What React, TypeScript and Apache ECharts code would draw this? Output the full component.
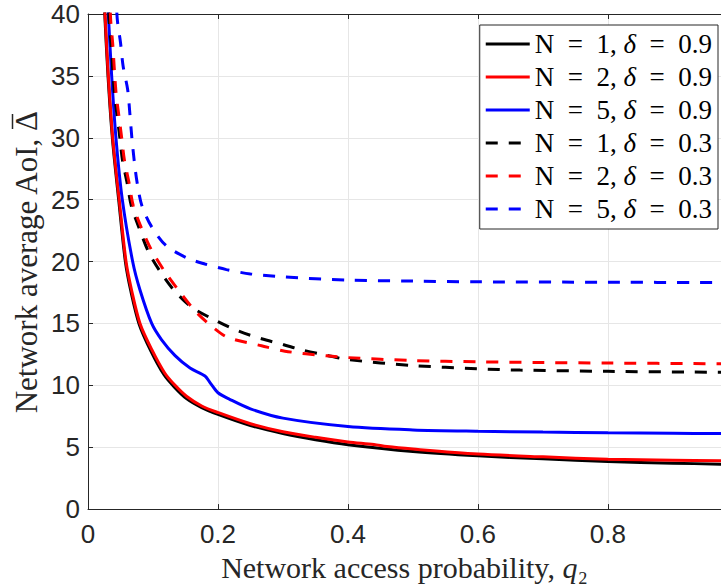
import React, { useEffect, useRef } from "react";
import * as echarts from "echarts";

// x: network access probability q2, y: network average AoI
const n1d09: [number, number][] = [
  [0.0245, 42], [0.0258, 40], [0.0308, 35], [0.0375, 30], [0.0472, 25], [0.0575, 20],
  [0.066, 17.6], [0.079, 14.9], [0.097, 12.75], [0.117, 10.85], [0.133, 9.85], [0.151, 8.95],
  [0.175, 8.2], [0.2, 7.65], [0.25, 6.75], [0.3, 6.1], [0.35, 5.6], [0.4, 5.2],
  [0.5, 4.65], [0.6, 4.3], [0.7, 4.06], [0.8, 3.84], [0.9, 3.71], [0.975, 3.63],
];
const n2d09: [number, number][] = [
  [0.025, 42], [0.0262, 40], [0.0313, 35], [0.038, 30], [0.048, 25], [0.0585, 20],
  [0.067, 17.7], [0.08, 15], [0.098, 12.9], [0.118, 11.0], [0.134, 10], [0.152, 9.1],
  [0.175, 8.33], [0.2, 7.8], [0.25, 6.9], [0.3, 6.25], [0.35, 5.8], [0.4, 5.43],
  [0.44, 5.22], [0.46, 5.05], [0.5, 4.85], [0.6, 4.45], [0.7, 4.22], [0.8, 4.03],
  [0.9, 3.95], [0.975, 3.9],
];
const n5d09: [number, number][] = [
  [0.0298, 42], [0.0313, 40], [0.0364, 35], [0.043, 30], [0.0528, 25], [0.0687, 20],
  [0.08, 17.7], [0.098, 15], [0.113, 13.7], [0.134, 12.4], [0.157, 11.4], [0.18, 10.75],
  [0.188, 10.2], [0.2, 9.4], [0.218, 8.87], [0.25, 8.1], [0.3, 7.35], [0.4, 6.67],
  [0.5, 6.4], [0.6, 6.29], [0.7, 6.22], [0.8, 6.17], [0.9, 6.13], [0.975, 6.1],
];
const n1d03: [number, number][] = [
  [0.031, 42], [0.0325, 39.5], [0.0355, 37.6], [0.0405, 33.7], [0.045, 31.7], [0.049, 30],
  [0.053, 28.2], [0.06, 26.4], [0.0667, 24.5], [0.078, 22.8], [0.093, 20.8], [0.111, 19.2],
  [0.132, 17.7], [0.16, 16.3], [0.198, 15.2], [0.231, 14.4], [0.267, 13.76], [0.3, 13.3],
  [0.33, 12.85], [0.367, 12.43], [0.4, 12.08], [0.5, 11.6], [0.6, 11.34], [0.665, 11.23],
  [0.8, 11.13], [0.975, 11.05],
];
const n2d03: [number, number][] = [
  [0.033, 42], [0.0349, 39.5], [0.038, 37.6], [0.043, 33.7], [0.0477, 31.7], [0.0518, 30],
  [0.056, 28.2], [0.063, 26.4], [0.0697, 24.5], [0.0815, 22.8], [0.097, 21.0], [0.118, 19.2],
  [0.139, 17.7], [0.165, 16.0], [0.193, 14.65], [0.216, 13.85], [0.267, 13.2], [0.303, 12.76],
  [0.367, 12.38], [0.4, 12.24], [0.5, 12.0], [0.6, 11.9], [0.7, 11.84], [0.8, 11.8],
  [0.975, 11.74],
];
const n5d03: [number, number][] = [
  [0.043, 42], [0.045, 39.6], [0.05, 37.7], [0.054, 35.8], [0.061, 33.9], [0.0645, 31.9],
  [0.0675, 30], [0.071, 28.2], [0.0755, 26.4], [0.083, 24.5], [0.098, 22.8], [0.12, 21.3],
  [0.152, 20.3], [0.18, 19.8], [0.213, 19.35], [0.25, 19.0], [0.3, 18.76], [0.4, 18.5],
  [0.5, 18.42], [0.6, 18.36], [0.8, 18.33], [0.975, 18.3],
];

const seriesNames = [
  "N = 1, δ = 0.9",
  "N = 2, δ = 0.9",
  "N = 5, δ = 0.9",
  "N = 1, δ = 0.3",
  "N = 2, δ = 0.3",
  "N = 5, δ = 0.3",
];
const seriesData = [n1d09, n2d09, n5d09, n1d03, n2d03, n5d03];
const seriesColors = ["#000000", "#ff0000", "#0000ff", "#000000", "#ff0000", "#0000ff"];
const seriesDashed = [false, false, false, true, true, true];

const xMin = 0;
const xMax = 0.974;
const xStep = 0.2;
const yMin = 0;
const yMax = 40;
const yStep = 5;

const yTitleMain = "Network average AoI, ";
const yTitleSymbol = "Δ";

const AXIS = "#262626";
const SANS = "Liberation Sans, Arial, sans-serif";
const SERIF = "Liberation Serif, Times New Roman, serif";

const SOLID_ICON = "path://M0,0H44V3H0Z";
const DASH_ICON = "path://M0,0H12V3H0Z M23,0H35V3H23Z M43.99,0H44V3H43.99Z";

export default function App() {
  const ref = useRef<HTMLDivElement>(null);
  useEffect(() => {
    if (!ref.current) return;
    const chart = echarts.init(ref.current, undefined, { renderer: "svg" });
    const axisLine = { show: true, onZero: false, lineStyle: { color: AXIS, width: 1 } };
    const axisTick = { show: true, inside: true, length: 5, lineStyle: { color: AXIS, width: 1 } };
    chart.setOption({
      animation: false,
      backgroundColor: "#ffffff",
      grid: { left: 88, right: 0, top: 14, bottom: 77, containLabel: false },
      xAxis: [
        {
          type: "value",
          min: xMin,
          max: xMax,
          interval: xStep,
          position: "bottom",
          axisLine,
          axisTick,
          axisLabel: {
            fontFamily: SANS,
            fontSize: 26,
            color: AXIS,
            margin: 12,
            showMaxLabel: false,
            formatter: (v: number) => (Math.abs(v) < 1e-9 ? "0" : v.toFixed(1)),
          },
          splitLine: { show: true, lineStyle: { color: "#e6e6e6", width: 1 } },
          name: "Network access probability, {q|q}{s|₂}",
          nameLocation: "middle",
          nameGap: 39,
          nameTextStyle: {
            fontFamily: SERIF,
            fontSize: 30,
            color: AXIS,
            rich: {
              q: { fontFamily: SERIF, fontSize: 30, fontStyle: "italic", color: AXIS },
              s: { fontFamily: SERIF, fontSize: 30, color: AXIS },
            },
          },
        },
        {
          type: "value",
          min: xMin,
          max: xMax,
          interval: xStep,
          position: "top",
          axisLine,
          axisTick,
          axisLabel: { show: false },
          splitLine: { show: false },
        },
      ],
      yAxis: [
        {
          type: "value",
          min: yMin,
          max: yMax,
          interval: yStep,
          position: "left",
          axisLine,
          axisTick,
          axisLabel: { fontFamily: SANS, fontSize: 26, color: AXIS, margin: 8 },
          splitLine: { show: true, lineStyle: { color: "#e6e6e6", width: 1 } },
        },
      ],
      graphic: [
        {
          type: "group",
          x: 26,
          y: 262,
          rotation: Math.PI / 2,
          silent: true,
          children: [
            {
              type: "text",
              x: 131,
              y: 0,
              style: {
                text: yTitleMain,
                font: `31px ${SERIF}`,
                fill: AXIS,
                align: "right",
                verticalAlign: "middle",
              },
            },
            {
              type: "text",
              x: 131,
              y: 0,
              style: {
                text: yTitleSymbol,
                font: `31px ${SERIF}`,
                fill: AXIS,
                align: "left",
                verticalAlign: "middle",
              },
            },
            {
              type: "line",
              shape: { x1: 133, y1: -13.5, x2: 148, y2: -13.5 },
              style: { stroke: AXIS, lineWidth: 1.5 },
            },
          ],
        },
      ],
      legend: {
        orient: "vertical",
        right: 3,
        top: 25,
        padding: [5, 6, 6, 6],
        itemGap: 5,
        itemWidth: 44,
        itemHeight: 3,
        backgroundColor: "#ffffff",
        borderColor: AXIS,
        borderWidth: 1,
        borderRadius: 0,
        selectedMode: false,
        data: seriesNames.map((name, i) => ({
          name,
          icon: seriesDashed[i] ? DASH_ICON : SOLID_ICON,
          itemStyle: { color: seriesColors[i], borderWidth: 0 },
        })),
        formatter: (name: string) =>
          name.replace(/ = /g, "\u2002=\u2002").replace("δ", "{i|δ}"),
        textStyle: {
          fontFamily: SERIF,
          fontSize: 27,
          lineHeight: 28,
          color: "#000000",
          rich: {
            i: { fontFamily: SERIF, fontSize: 27, lineHeight: 28, fontStyle: "italic", color: "#000000" },
          },
        },
      },
      series: seriesNames.map((name, i) => ({
        name,
        type: "line",
        data: seriesData[i],
        xAxisIndex: 0,
        yAxisIndex: 0,
        showSymbol: false,
        symbol: "none",
        smooth: 0.3,
        clip: true,
        z: 2 + i,
        itemStyle: { color: seriesColors[i] },
        lineStyle: {
          color: seriesColors[i],
          width: 3,
          type: seriesDashed[i] ? [12, 11] : "solid",
          cap: "butt",
        },
      })),
    });
    return () => chart.dispose();
  }, []);
  return (
    <div
      ref={ref}
      style={{ position: "fixed", left: 0, top: 0, width: 721, height: 587, background: "#fff" }}
    />
  );
}
